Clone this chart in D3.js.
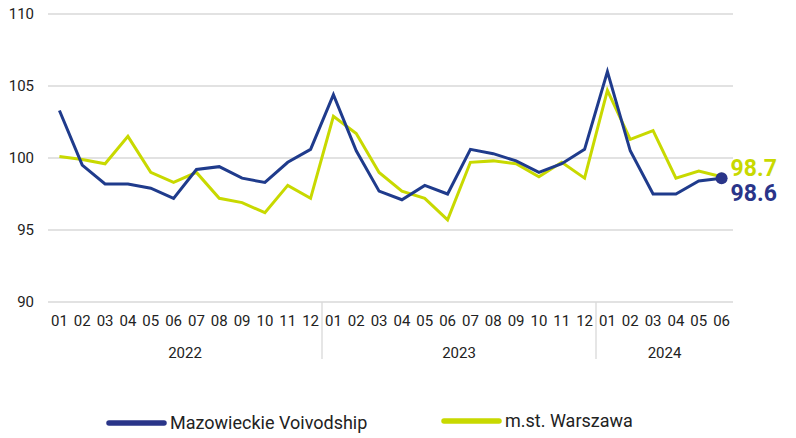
<!DOCTYPE html>
<html>
<head>
<meta charset="utf-8">
<script src="https://cdn.jsdelivr.net/npm/d3@7"></script>
<style>
  body { margin: 0; background: #fff; }
  svg { display: block; font-family: Roboto, "Noto Sans", sans-serif; }
</style>
</head>
<body>
<div id="chart"></div>
<script>
const years = ["2022", "2023", "2024"]
const months = ["01","02","03","04","05","06","07","08","09","10","11","12"]
const monthsPerYear = [12, 12, 6]

const mazowieckie = [103.3, 99.5, 98.2, 98.2, 97.9, 97.2, 99.2, 99.4, 98.6, 98.3, 99.7, 100.6,
                     104.4, 100.5, 97.7, 97.1, 98.1, 97.5, 100.6, 100.3, 99.8, 99.0, 99.6, 100.6,
                     106.0, 100.5, 97.5, 97.5, 98.4, 98.6]
const warszawa = [100.1, 99.9, 99.6, 101.5, 99.0, 98.3, 99.0, 97.2, 96.9, 96.2, 98.1, 97.2,
                  102.9, 101.7, 99.0, 97.7, 97.2, 95.7, 99.7, 99.8, 99.6, 98.7, 99.7, 98.6,
                  104.7, 101.3, 101.9, 98.6, 99.1, 98.7]
const yTicks = [90, 95, 100, 105, 110]

const series = [
    { name: "Mazowieckie Voivodship", values: mazowieckie, color: "#1f3b8c", label: "#2a3589" },
    { name: "m.st. Warszawa", values: warszawa, color: "#c8d900", label: "#c8d900" }
]

const width = 796, height = 438
const margin = { left: 48, right: 63, top: 14, bottom: 136 }

// build period keys like 2022-01
const periods = []
years.forEach((yr, i) => {
    months.slice(0, monthsPerYear[i]).forEach(m => periods.push({ year: yr, month: m, key: yr + "-" + m }))
})

const svg = d3.select("#chart").append("svg")
    .attr("width", width)
    .attr("height", height)

const x = d3.scaleBand()
    .domain(periods.map(d => d.key))
    .range([margin.left, width - margin.right])

const y = d3.scaleLinear()
    .domain([90, 110])
    .range([height - margin.bottom, margin.top])

// gridlines + y labels
const grid = svg.append("g")
grid.selectAll("line")
    .data(yTicks)
    .join("line")
    .attr("x1", margin.left)
    .attr("x2", width - margin.right)
    .attr("y1", d => y(d))
    .attr("y2", d => y(d))
    .attr("stroke", "#d9d9d9")
    .attr("stroke-width", 1.3)

grid.selectAll("text")
    .data(yTicks)
    .join("text")
    .attr("x", 34)
    .attr("y", d => y(d))
    .attr("dy", "0.35em")
    .attr("text-anchor", "end")
    .style("font-size", "15px")
    .style("fill", "#222")
    .text(d => d)

// month labels
svg.append("g").selectAll("text")
    .data(periods)
    .join("text")
    .attr("x", d => x(d.key) + x.bandwidth() / 2)
    .attr("y", 326)
    .attr("text-anchor", "middle")
    .style("font-size", "15px")
    .style("fill", "#222")
    .text(d => d.month)

// year labels and separators
let start = 0
years.forEach((yr, i) => {
    const first = periods[start].key
    const last = periods[start + monthsPerYear[i] - 1].key
    const x0 = x(first), x1 = x(last) + x.bandwidth()
    svg.append("text")
        .attr("x", (x0 + x1) / 2)
        .attr("y", 358)
        .attr("text-anchor", "middle")
        .style("font-size", "15px")
        .style("fill", "#222")
        .text(yr)
    if (i < years.length - 1) {
        svg.append("line")
            .attr("x1", x1).attr("x2", x1)
            .attr("y1", y(90)).attr("y2", 359)
            .attr("stroke", "#d9d9d9")
            .attr("stroke-width", 1.3)
    }
    start += monthsPerYear[i]
})

const line = d3.line()
    .x((d, i) => x(periods[i].key) + x.bandwidth() / 2)
    .y(d => y(d))

// draw warszawa first so mazowieckie is on top
series.slice().reverse().forEach(s => {
    svg.append("path")
        .datum(s.values)
        .attr("fill", "none")
        .attr("stroke", s.color)
        .attr("stroke-width", 3)
        .attr("d", line)
})

// end markers + value labels
const lastX = x(periods[periods.length - 1].key) + x.bandwidth() / 2
const lastW = warszawa[warszawa.length - 1]
const lastM = mazowieckie[mazowieckie.length - 1]

svg.append("circle")
    .attr("cx", lastX)
    .attr("cy", y(lastW))
    .attr("r", 4)
    .attr("fill", series[1].color)

svg.append("circle")
    .attr("cx", lastX)
    .attr("cy", y(lastM))
    .attr("r", 6)
    .attr("fill", series[0].label)

svg.append("text")
    .attr("x", lastX + 9)
    .attr("y", y(lastW) - 1)
    .style("font-size", "23px")
    .style("font-weight", "bold")
    .style("fill", series[1].label)
    .text(d3.format(".1f")(lastW))

svg.append("text")
    .attr("x", lastX + 9)
    .attr("y", y(lastM) + 23)
    .style("font-size", "23px")
    .style("font-weight", "bold")
    .style("fill", series[0].label)
    .text(d3.format(".1f")(lastM))

// legend
const legendPos = [{ x: 109, y: 423 }, { x: 444, y: 421 }]
const legendColor = [series[0].label, series[1].color]
series.forEach((s, i) => {
    const g = svg.append("g").attr("transform", `translate(${legendPos[i].x},${legendPos[i].y})`)
    g.append("line")
        .attr("x1", 0).attr("x2", 55)
        .attr("y1", 0).attr("y2", 0)
        .attr("stroke", legendColor[i])
        .attr("stroke-width", 5.5)
        .attr("stroke-linecap", "round")
    g.append("text")
        .attr("x", 61)
        .attr("y", 0)
        .attr("dy", "0.35em")
        .style("font-size", "18px")
        .style("fill", "#222")
        .text(s.name)
})
</script>
</body>
</html>
